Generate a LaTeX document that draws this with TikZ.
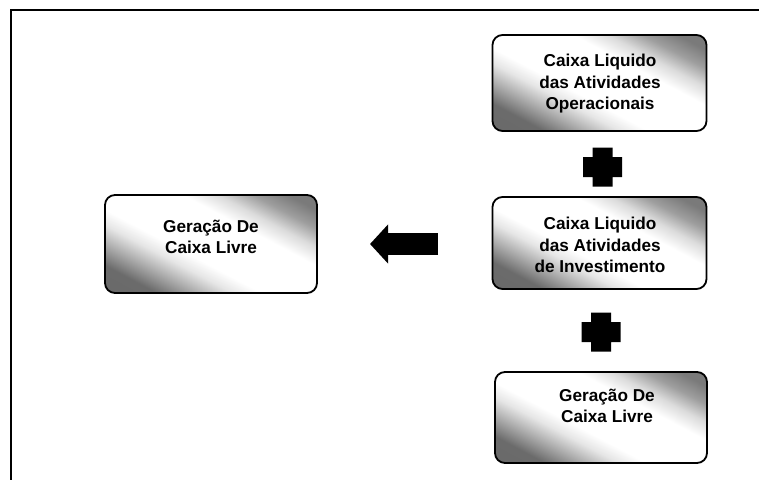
\documentclass[tikz,border=0pt]{standalone}
\usepackage{fontspec}
\setmainfont{Liberation Sans}
\usetikzlibrary{arrows.meta}
\pgfdeclareverticalshading{boxshade}{100bp}{color(0bp)=(black!60); color(25bp)=(black!58); color(32bp)=(black!32); color(38bp)=(black!10); color(43bp)=(white); color(61bp)=(white); color(67bp)=(black!14); color(73bp)=(black!38); color(79bp)=(black!52); color(100bp)=(black!52)}
\tikzset{
  cbox/.style={draw=black, line width=1.8pt, rounded corners=10pt,
    shade, shading=boxshade, shading angle=-28, inner sep=0pt},
  ctext/.style={align=center, inner sep=0pt,
    font=\fontsize{17.2}{21.5}\selectfont\bfseries},
  plussign/.pic={\fill[black] (-10,-19.5) -- (10,-19.5) -- (10,-10) -- (19.5,-10) -- (19.5,10) -- (10,10) -- (10,19.5) -- (-10,19.5) -- (-10,10) -- (-19.5,10) -- (-19.5,-10) -- (-10,-10) -- cycle;},
  bigarrow/.style={line width=22pt, -{Triangle[length=18pt,width=38pt]}}
}
\begin{document}
\begin{tikzpicture}[x=1pt,y=-1pt]
\useasboundingbox (0,0) rectangle (759,479);
\draw[line width=2pt] (11,480) -- (11,10) -- (760,10);
% boxes
\node[cbox, minimum width=214pt, minimum height=96pt] (op) at (599.5,83) {};
\node[cbox, minimum width=214pt, minimum height=92pt] (inv) at (599.5,243) {};
\node[cbox, minimum width=212pt, minimum height=91pt] (ger2) at (601,417.5) {};
\node[cbox, minimum width=212pt, minimum height=98pt] (ger1) at (211,244) {};
% texts
\node[ctext] (top) at (600,84) {Caixa Liquido\\das Atividades\\Operacionais};
\node[ctext] (tinv) at (600,245) {Caixa Liquido\\das Atividades\\de Investimento};
\node[ctext] (tger2) at (607,406) {Geração De\\Caixa Livre};
\node[ctext] (tger1) at (211,237) {Geração De\\Caixa Livre};
% plus signs
\pic at (602.5,167) {plussign};
\pic at (601,332) {plussign};
% arrow
\coordinate (arrS) at (438,244);
\coordinate (arrE) at (370,244);
\draw[bigarrow] (arrS) -- (arrE);
\end{tikzpicture}
\end{document}
